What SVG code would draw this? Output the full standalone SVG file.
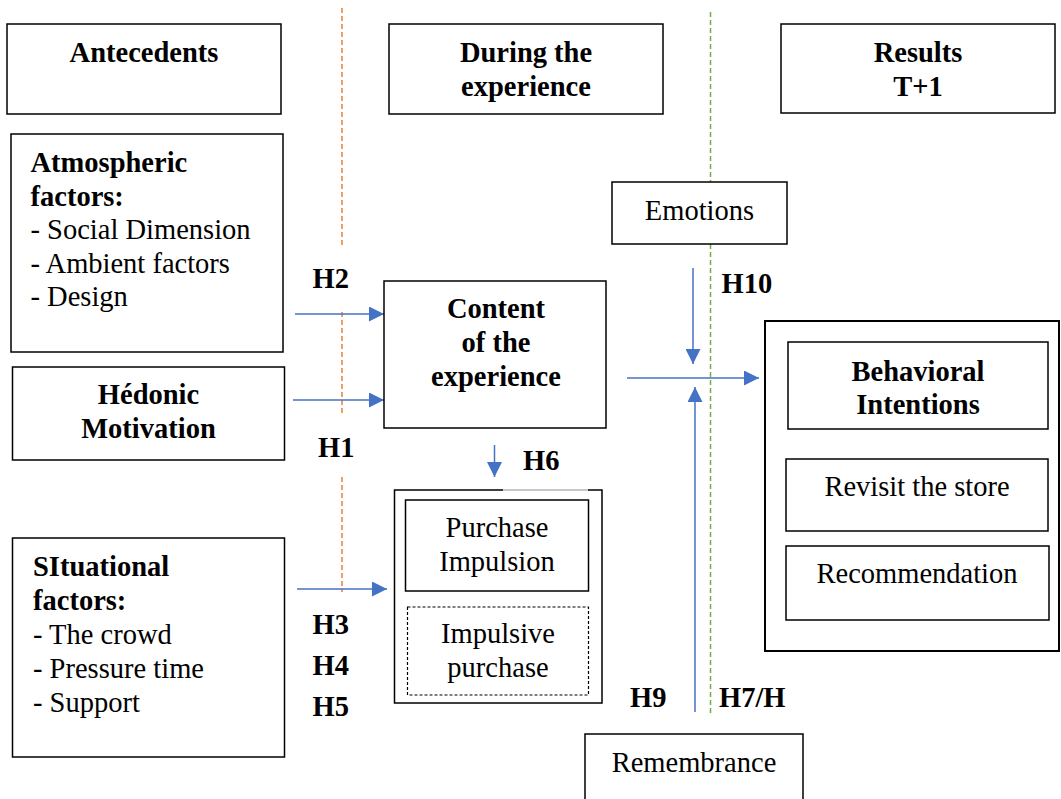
<svg xmlns="http://www.w3.org/2000/svg" width="1061" height="799" viewBox="0 0 1061 799">
<style>
text{font-family:"Liberation Serif","Times New Roman",serif;font-size:28.5px;fill:#000}
.b{font-weight:bold}
.c{text-anchor:middle}
.box{fill:#fff;stroke:#000;stroke-width:1.5}
.arr{stroke:#4472C4;stroke-width:1.5;fill:none}
.or{stroke:#ED7D31;stroke-width:1.5;stroke-dasharray:5 3;fill:none}
.gr{stroke:#70AD47;stroke-width:1.5;stroke-dasharray:5 3;fill:none}
</style>
<defs>
<marker id="ah" viewBox="0 0 15 15" refX="15" refY="7.5" markerWidth="15" markerHeight="15" markerUnits="userSpaceOnUse" orient="auto">
<path d="M0,0 L15,7.5 L0,15 z" fill="#4472C4"/>
</marker>
</defs>
<rect width="1061" height="799" fill="#fff"/>
<g id="dividers">
<path class="or" d="M342,8 V248 M342,312 V415 M342,477 V592"/>
<path class="gr" d="M710.5,12 V713"/>
</g>
<g id="connectors">
<line class="arr" x1="295" y1="314" x2="384" y2="314" marker-end="url(#ah)"/>
<line class="arr" x1="293" y1="400" x2="384" y2="400" marker-end="url(#ah)"/>
<line class="arr" x1="297" y1="589" x2="387" y2="589" marker-end="url(#ah)"/>
<line class="arr" x1="494.5" y1="445" x2="494.5" y2="477" marker-end="url(#ah)"/>
<line class="arr" x1="693" y1="268" x2="693" y2="364" marker-end="url(#ah)"/>
<line class="arr" x1="627" y1="378" x2="759" y2="378" marker-end="url(#ah)"/>
<line class="arr" x1="695" y1="712" x2="695" y2="387" marker-end="url(#ah)"/>
</g>
<g id="antecedents"><rect class="box" x="7" y="24" width="274" height="90"/><text class="b c" x="144" y="62">Antecedents</text></g>
<g id="during"><rect class="box" x="389" y="24" width="274" height="90"/><text class="b c" x="526" y="62">During the</text><text class="b c" x="526" y="96">experience</text></g>
<g id="results"><rect class="box" x="781" y="24" width="274" height="89"/><text class="b c" x="918" y="62">Results</text><text class="b c" x="918" y="96">T+1</text></g>
<g id="atmospheric"><rect class="box" x="11" y="134" width="272" height="218"/>
<text class="b" x="30.5" y="172">Atmospheric</text><text class="b" x="30.5" y="206">factors:</text>
<text x="30.5" y="239">- Social Dimension</text><text x="30.5" y="273">- Ambient factors</text><text x="30.5" y="306">- Design</text></g>
<g id="hedonic"><rect class="box" x="12.5" y="367" width="272" height="93"/><text class="b c" x="148.5" y="404">Hédonic</text><text class="b c" x="148.5" y="438">Motivation</text></g>
<g id="situational"><rect class="box" x="12.5" y="538" width="272" height="219"/>
<text class="b" x="33" y="576">SItuational</text><text class="b" x="33" y="610">factors:</text>
<text x="33" y="644">- The crowd</text><text x="33" y="678">- Pressure time</text><text x="33" y="712">- Support</text></g>
<g id="content"><rect class="box" x="384" y="281" width="222" height="147"/><text class="b c" x="496" y="318">Content</text><text class="b c" x="496" y="352">of the</text><text class="b c" x="496" y="386">experience</text></g>
<g id="purchase-group">
<rect class="box" x="394.5" y="490" width="207.5" height="213"/>
<line x1="503" y1="490" x2="588" y2="490" stroke="#c8c8c8" stroke-width="1.8"/>
<rect class="box" x="405.5" y="500" width="183" height="91"/><text class="c" x="497" y="537">Purchase</text><text class="c" x="497" y="571">Impulsion</text>
<rect x="407.5" y="607" width="181" height="88" fill="#fff" stroke="#000" stroke-width="1.2" stroke-dasharray="3 2"/><text class="c" x="498" y="643">Impulsive</text><text class="c" x="498" y="677">purchase</text>
</g>
<g id="emotions"><rect class="box" x="612" y="182" width="175" height="62"/><text class="c" x="699.5" y="220">Emotions</text></g>
<g id="behavioral"><rect x="765" y="321" width="294" height="330" fill="#fff" stroke="#000" stroke-width="2"/>
<rect class="box" x="788" y="342" width="260" height="87"/><text class="b c" x="918" y="381">Behavioral</text><text class="b c" x="918" y="414">Intentions</text>
<rect class="box" x="786" y="459" width="262" height="72"/><text class="c" x="917" y="496">Revisit the store</text>
<rect class="box" x="786" y="546" width="263" height="74"/><text class="c" x="917" y="583">Recommendation</text></g>
<g id="remembrance"><rect class="box" x="585" y="734" width="218" height="80"/><text class="c" x="694" y="772">Remembrance</text></g>
<g id="labels">
<text class="b" x="312.5" y="288">H2</text>
<text class="b" x="318" y="457">H1</text>
<text class="b" x="523" y="470">H6</text>
<text class="b" x="721.5" y="293">H10</text>
<text class="b" x="312.5" y="634">H3</text>
<text class="b" x="312.5" y="675">H4</text>
<text class="b" x="312.5" y="716">H5</text>
<text class="b" x="630" y="707">H9</text>
<text class="b" x="719" y="707">H7/H</text>
</g>
</svg>
